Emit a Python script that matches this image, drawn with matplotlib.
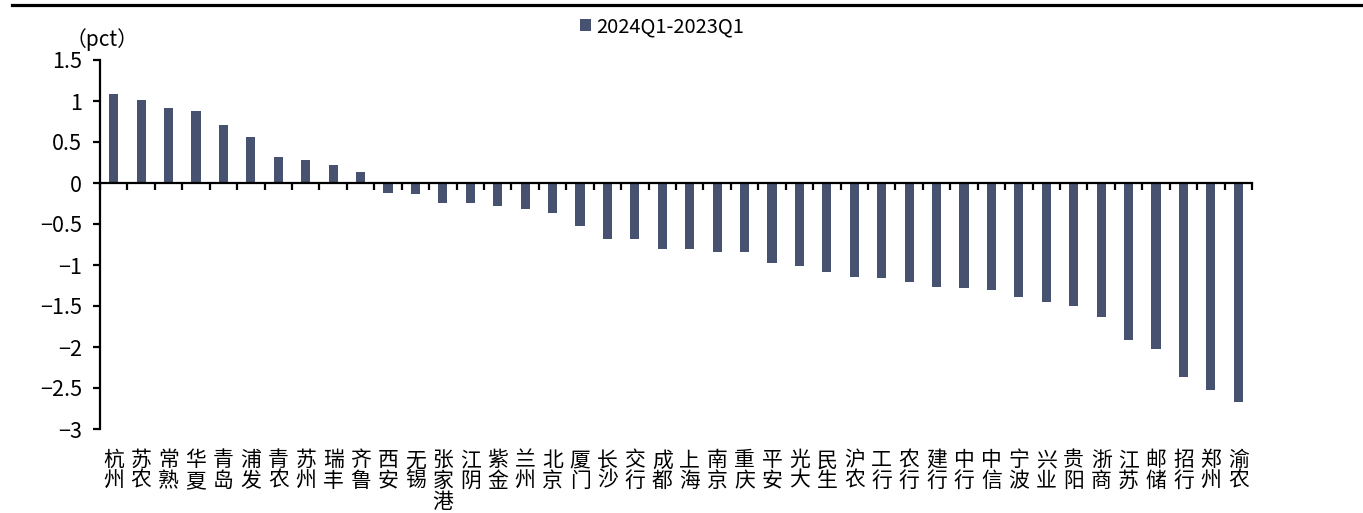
import matplotlib
matplotlib.use("Agg")
import matplotlib.pyplot as plt
from matplotlib.patches import Patch
from matplotlib.lines import Line2D

plt.rcParams['font.family'] = ['Noto Sans CJK SC', 'DejaVu Sans']

banks = ["杭州", "苏农", "常熟", "华夏", "青岛", "浦发", "青农", "苏州", "瑞丰", "齐鲁",
         "西安", "无锡", "张家港", "江阴", "紫金", "兰州", "北京", "厦门", "长沙", "交行",
         "成都", "上海", "南京", "重庆", "平安", "光大", "民生", "沪农", "工行", "农行",
         "建行", "中行", "中信", "宁波", "兴业", "贵阳", "浙商", "江苏", "邮储", "招行",
         "郑州", "渝农"]
change_pct = [1.08, 1.01, 0.91, 0.88, 0.71, 0.56, 0.32, 0.28, 0.22, 0.13,
              -0.12, -0.13, -0.24, -0.24, -0.28, -0.32, -0.36, -0.52, -0.68, -0.68,
              -0.80, -0.80, -0.84, -0.84, -0.97, -1.01, -1.09, -1.15, -1.16, -1.21,
              -1.27, -1.28, -1.30, -1.39, -1.45, -1.50, -1.63, -1.92, -2.02, -2.36,
              -2.52, -2.67]
series_name = "2024Q1-2023Q1"
y_ticks = [1.5, 1, 0.5, 0, -0.5, -1, -1.5, -2, -2.5, -3]
y_tick_labels = ["1.5", "1", "0.5", "0", "\u22120.5", "\u22121", "\u22121.5",
                 "\u22122", "\u22122.5", "\u22123"]

bar_color = "#475270"

W, H = 1363, 513
fig = plt.figure(figsize=(W / 100, H / 100), dpi=100)
ax = fig.add_axes([100 / W, 1 - 429 / H, 1152 / W, 369 / H])

x = list(range(len(banks)))
ax.bar(x, change_pct, width=0.33, color=bar_color, zorder=2)

ax.set_xlim(-0.5, len(banks) - 0.5)
ax.set_ylim(-3, 1.5)

# spines: left axis plus a zero line carrying the category ticks
for s in ("top", "right"):
    ax.spines[s].set_visible(False)
ax.spines["left"].set_linewidth(1.6)
ax.spines["bottom"].set_position(("data", 0))
ax.spines["bottom"].set_linewidth(1.6)
ax.spines["bottom"].set_zorder(3)

ax.set_yticks(y_ticks)
ax.set_yticklabels(y_tick_labels, fontsize=15.5)
ax.tick_params(axis="y", direction="out", length=5, width=1.6, pad=8)

ax.set_xticks([i - 0.5 for i in range(len(banks) + 1)])
ax.set_xticklabels([])
ax.tick_params(axis="x", direction="out", length=5, width=1.6)

# category names written vertically under the plot area
tr = ax.get_xaxis_transform()
for i, name in enumerate(banks):
    ax.text(i, -0.055, "\n".join(name), transform=tr, ha="center", va="top",
            fontsize=15, linespacing=0.92)

fig.text(102 / W, 1 - 40 / H, "（pct）", ha="center", va="center", fontsize=15)

fig.legend(handles=[Patch(facecolor=bar_color, edgecolor="none")],
           labels=[series_name], loc="center", bbox_to_anchor=(662 / W, 1 - 27 / H),
           frameon=False, fontsize=14.5, handlelength=0.55, handleheight=0.55,
           handletextpad=0.3, borderpad=0)

fig.add_artist(Line2D([12 / W, 1.0], [1 - 4.5 / H, 1 - 4.5 / H], color="black",
                      linewidth=2.3, transform=fig.transFigure))

fig.savefig("out.png", dpi=100)
